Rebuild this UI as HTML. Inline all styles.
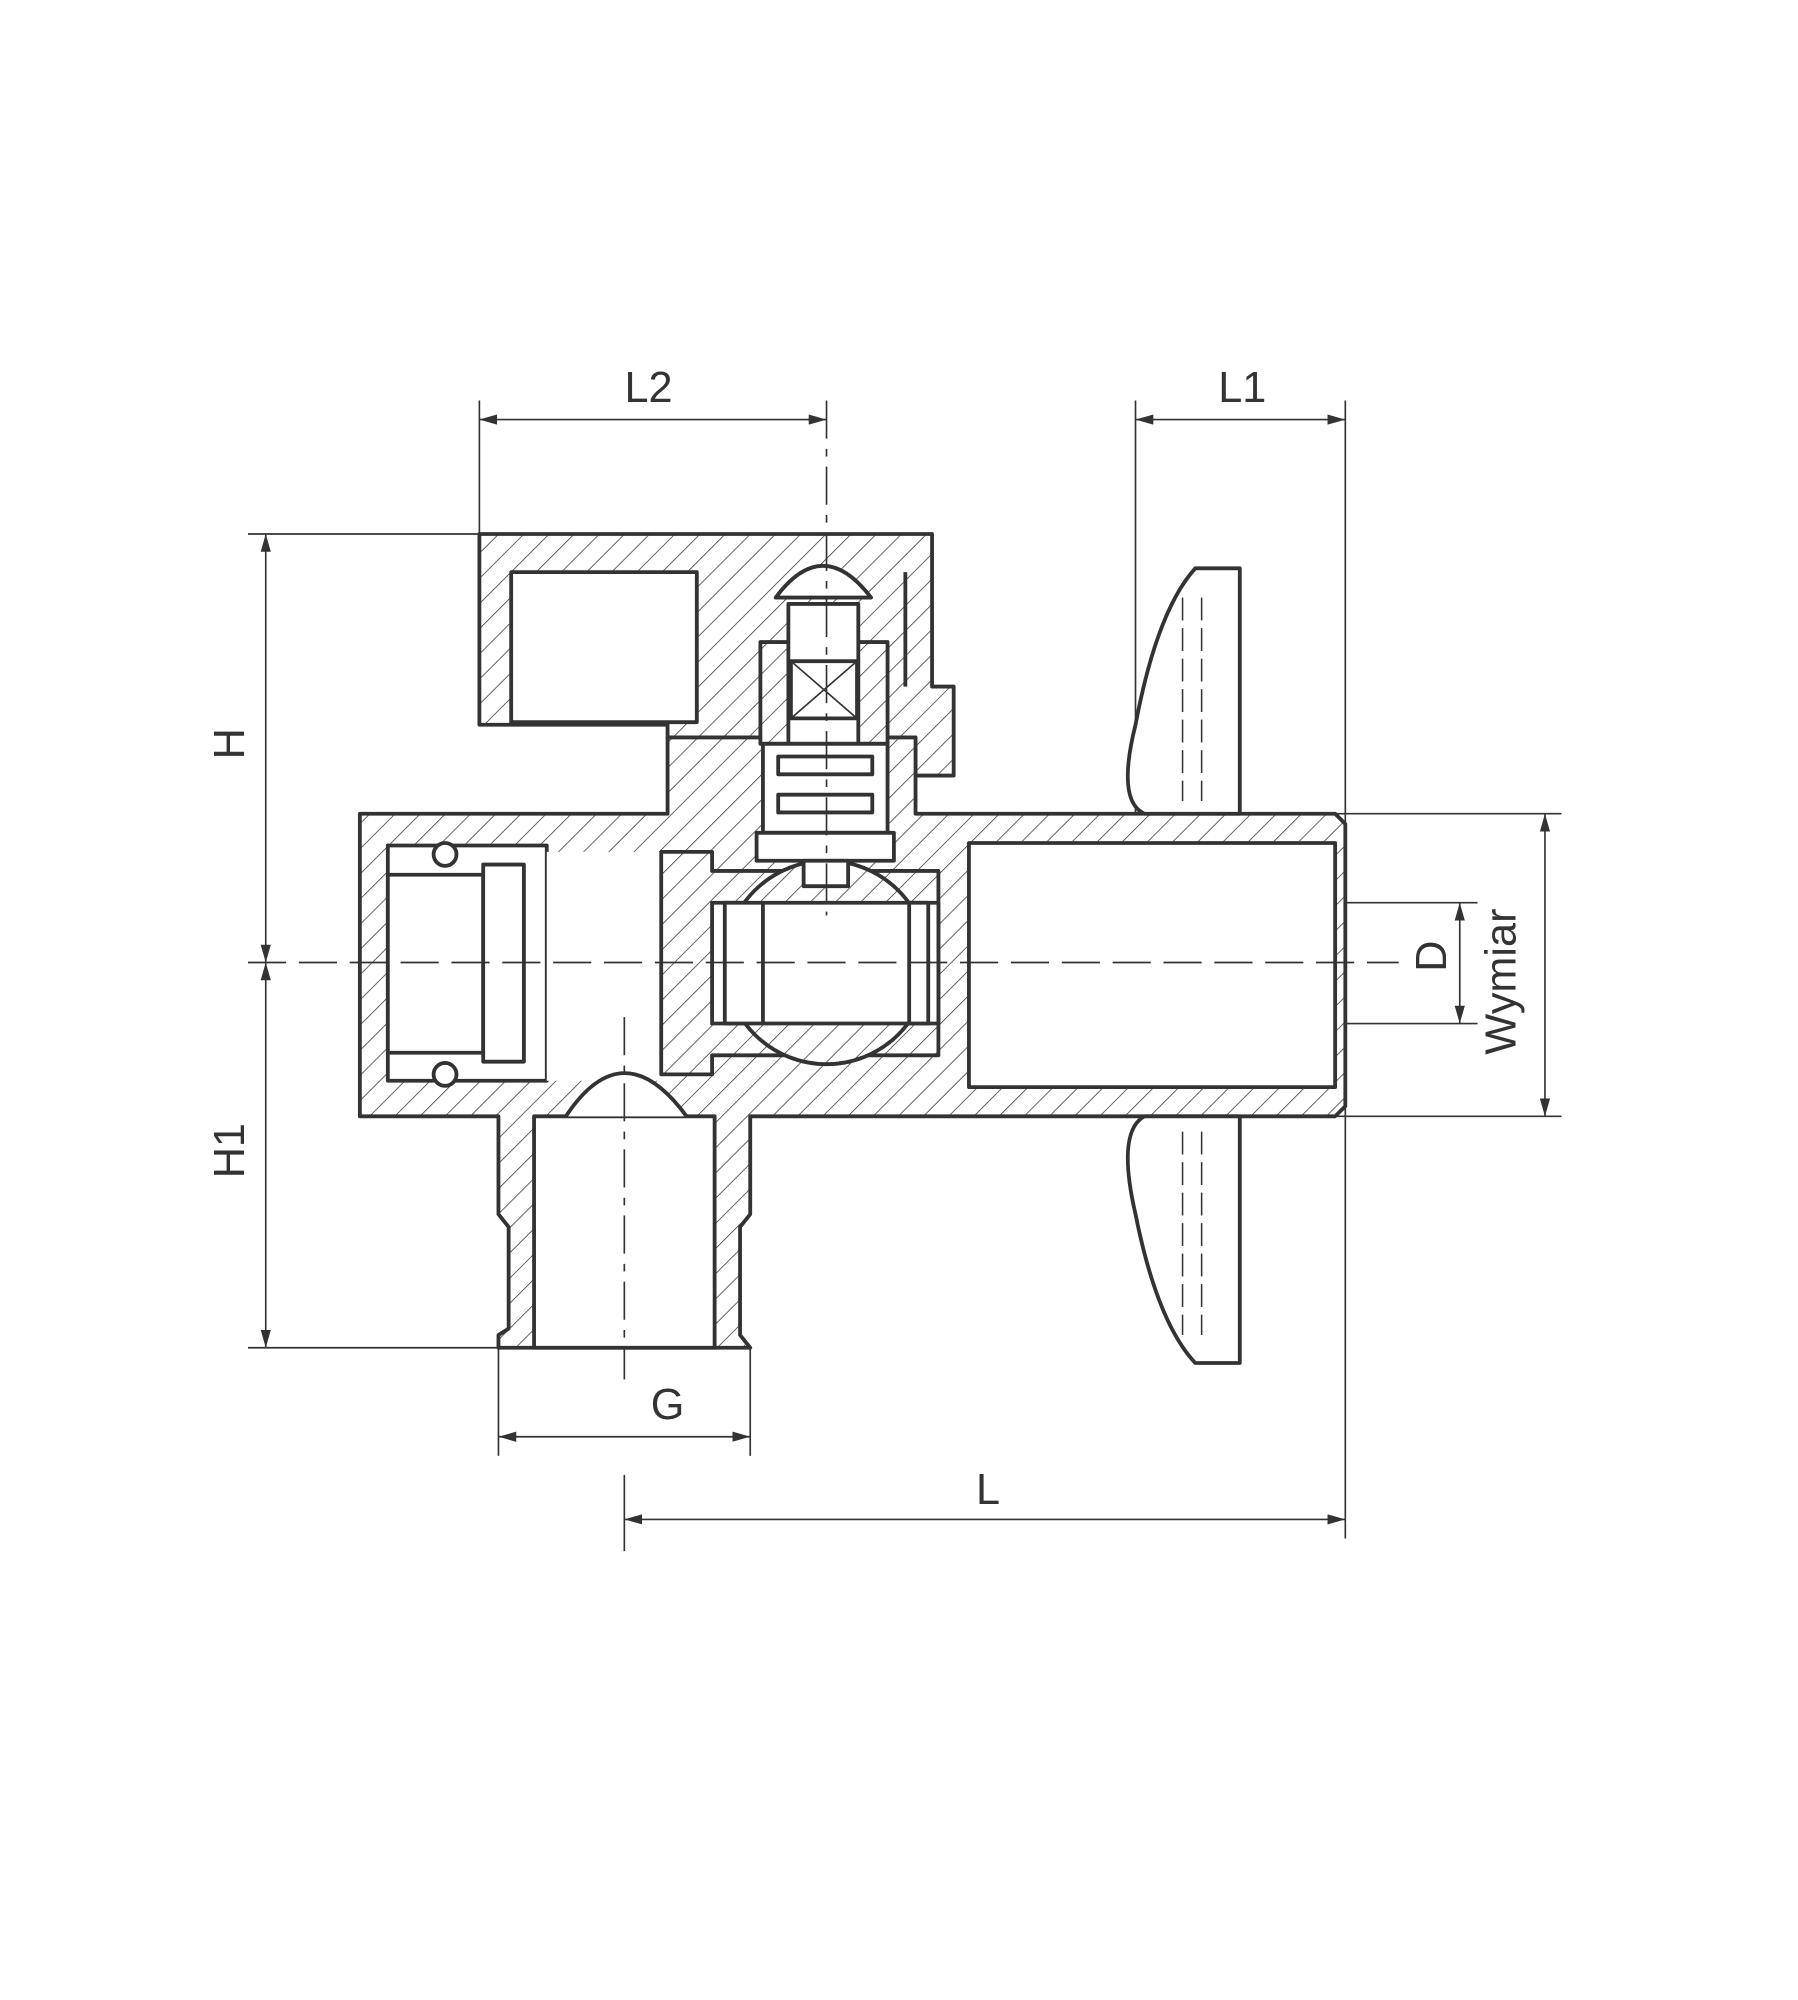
<!DOCTYPE html>
<html><head><meta charset="utf-8"><style>html,body{margin:0;padding:0;background:#fff}svg{display:block}</style></head>
<body>
<svg width="1798" height="2000" viewBox="0 0 1414 1573" preserveAspectRatio="none" xmlns="http://www.w3.org/2000/svg">
<defs>
<pattern id="h" patternUnits="userSpaceOnUse" width="14" height="14" patternTransform="rotate(45)">
<rect width="14" height="14" fill="#fff"/><line x1="0" y1="0" x2="0" y2="14" stroke="#333" stroke-width="1.2"/></pattern>
<marker id="a" markerWidth="14" markerHeight="8" refX="14" refY="4" orient="auto-start-reverse" markerUnits="userSpaceOnUse"><path d="M0,0 L14,4 L0,8 z" fill="#333"/></marker>
</defs>
<g fill="none" stroke="#333" stroke-width="1.3">
<line x1="377" y1="315" x2="377" y2="420"/>
<line x1="377" y1="330" x2="650" y2="330" marker-start="url(#a)" marker-end="url(#a)"/>
<line x1="893" y1="315" x2="893" y2="640"/><line x1="1058" y1="315" x2="1058" y2="1210"/>
<line x1="893" y1="330" x2="1058" y2="330" marker-start="url(#a)" marker-end="url(#a)"/>
<line x1="195" y1="420" x2="377" y2="420"/>
<line x1="209" y1="420" x2="209" y2="757" marker-start="url(#a)" marker-end="url(#a)"/>
<line x1="209" y1="757" x2="209" y2="1060" marker-start="url(#a)" marker-end="url(#a)"/>
<line x1="195" y1="1060" x2="392" y2="1060"/>
<line x1="392" y1="1060" x2="392" y2="1145"/><line x1="590" y1="1060" x2="590" y2="1145"/>
<line x1="392" y1="1130" x2="590" y2="1130" marker-start="url(#a)" marker-end="url(#a)"/>
<line x1="491" y1="1160" x2="491" y2="1220"/>
<line x1="491" y1="1195" x2="1058" y2="1195" marker-start="url(#a)" marker-end="url(#a)"/>
<line x1="1050" y1="640" x2="1228" y2="640"/><line x1="1050" y1="878" x2="1228" y2="878"/>
<line x1="1215" y1="640" x2="1215" y2="878" marker-start="url(#a)" marker-end="url(#a)"/>
<line x1="738" y1="710" x2="1162" y2="710"/><line x1="738" y1="805" x2="1162" y2="805"/>
<line x1="1148" y1="710" x2="1148" y2="805" marker-start="url(#a)" marker-end="url(#a)"/>
</g>
<g stroke="#333" stroke-width="3" stroke-linejoin="round">
<path d="M377,420 H733 V540 H750 V610 H720 V580 H525 V570 H377 Z" fill="url(#h)"/>
<rect x="402" y="450" width="146" height="118" fill="#fff"/>
<path d="M283,640 H525 V580 H720 V640 H1050 L1058,648 V870 L1050,878 H590 V955 L582,965 V1050 L590,1060 H392 V1050 L400,1045 V965 L392,955 V878 H283 Z" fill="url(#h)"/>
<rect x="762" y="663" width="288" height="192" fill="#fff"/>
<rect x="420" y="878" width="142" height="182" fill="#fff"/>
<path d="M305,665 H430 V850 H305 Z" fill="#fff"/>
<path d="M430,670 H530 V850 H430 Z" fill="#fff" stroke="none"/>
<path d="M445,878 Q490,810 540,878" fill="#fff"/>
<rect x="305" y="688" width="75" height="140" fill="#fff"/>
<rect x="380" y="680" width="32" height="155" fill="#fff"/>
<circle cx="350" cy="672" r="9" fill="#fff"/><circle cx="350" cy="845" r="9" fill="#fff"/>
<path d="M520,670 H560 V685 H738 V830 H560 V845 H520 Z" fill="url(#h)"/>
<rect x="560" y="710" width="178" height="95" fill="#fff"/>
<circle cx="650" cy="757" r="80" fill="url(#h)"/>
<rect x="570" y="710" width="160" height="95" fill="#fff"/>
<line x1="600" y1="710" x2="600" y2="805"/><line x1="715" y1="710" x2="715" y2="805"/>
<rect x="598" y="505" width="100" height="80" fill="url(#h)"/>
<rect x="620" y="475" width="55" height="110" fill="#fff"/>
<rect x="622" y="520" width="52" height="45" fill="#fff"/>
<path d="M622,520 L674,565 M674,520 L622,565" stroke-width="1.3"/>
<rect x="600" y="585" width="98" height="70" fill="#fff"/>
<rect x="612" y="595" width="74" height="14" fill="#fff"/><rect x="612" y="625" width="74" height="14" fill="#fff"/>
<rect x="595" y="655" width="108" height="22" fill="#fff"/>
<rect x="632" y="677" width="35" height="20" fill="#fff"/>
<path d="M610,470 Q647,420 685,470 Z" fill="#fff"/>
<line x1="712" y1="450" x2="712" y2="540"/>
<path d="M940,447 H975 V640 H900 Q878,630 893,570 Q910,480 940,447 Z" fill="#fff"/>
<path d="M900,878 H975 V1072 H940 Q910,1040 893,955 Q878,890 900,878 Z" fill="#fff"/>
</g>
<g stroke="#333" stroke-width="1.2" stroke-dasharray="18,6">
<line x1="930" y1="470" x2="930" y2="630"/><line x1="945" y1="470" x2="945" y2="630"/>
<line x1="930" y1="890" x2="930" y2="1050"/><line x1="945" y1="890" x2="945" y2="1050"/>
</g>
<g fill="none" stroke="#333" stroke-width="1.3">
<line x1="195" y1="757" x2="1100" y2="757" stroke-dasharray="30,10"/>
<line x1="650" y1="315" x2="650" y2="720" stroke-dasharray="30,8,6,8"/>
<line x1="491" y1="800" x2="491" y2="1085" stroke-dasharray="30,8,6,8"/>
</g>
<g font-family="Liberation Sans, sans-serif" font-size="34" fill="#333" text-anchor="middle">
<text x="510" y="316">L2</text><text x="977" y="316">L1</text>
<text x="525" y="1116">G</text><text x="777" y="1183">L</text>
<text transform="translate(192,585) rotate(-90)">H</text>
<text transform="translate(192,905) rotate(-90)">H1</text>
<text transform="translate(1137,752) rotate(-90)">D</text>
<text transform="translate(1192,772) rotate(-90)">Wymiar</text>
</g>
</svg>
</body></html>
